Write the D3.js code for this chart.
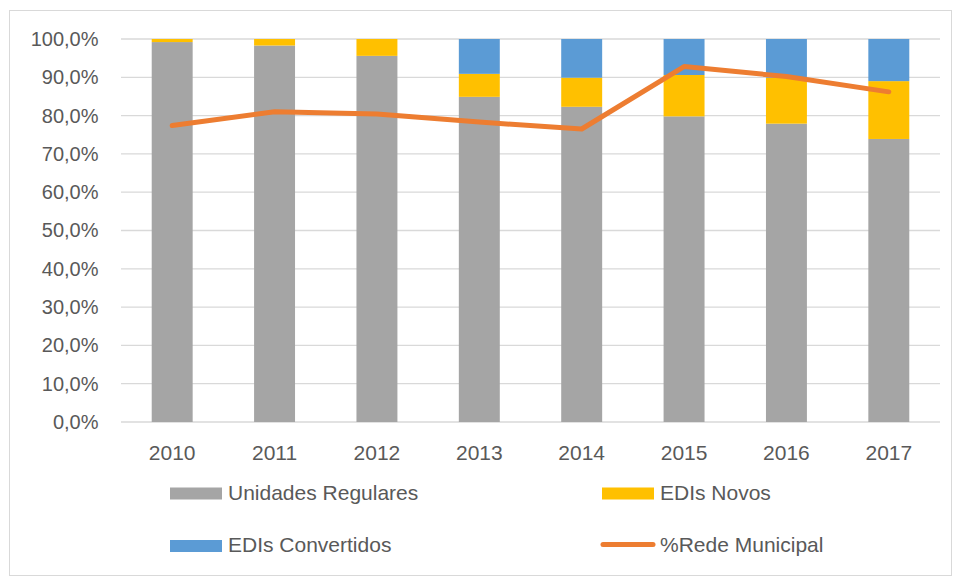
<!DOCTYPE html>
<html><head><meta charset="utf-8">
<script src="https://cdn.jsdelivr.net/npm/d3@7"></script>
<style>body{margin:0;background:#fff;} text{font-family:"Liberation Sans",Arial,sans-serif;fill:#595959;}</style>
</head><body>
<svg id="c" width="954" height="578"></svg>
<script>
const years = ["2010","2011","2012","2013","2014","2015","2016","2017"];
const unidadesRegulares = [99.2, 98.3, 95.6, 84.9, 82.3, 79.8, 77.9, 73.9];
const edisNovos = [0.8, 1.7, 4.4, 6.0, 7.6, 10.8, 12.0, 15.1];
const edisConvertidos = [0.0, 0.0, 0.0, 9.1, 10.1, 9.4, 10.1, 11.0];
const redeMunicipal = [77.4, 81.0, 80.4, 78.3, 76.5, 92.8, 90.2, 86.2];
const yTicks = [0,10,20,30,40,50,60,70,80,90,100];
const seriesNames = ["Unidades Regulares","EDIs Novos","EDIs Convertidos","%Rede Municipal"];
const colors = ["#a5a5a5","#ffc000","#5b9bd5","#ed7d31"];

const svg = d3.select("#c");
svg.append("rect").attr("x",9.5).attr("y",10.5).attr("width",942).attr("height",565)
  .attr("fill","#fff").attr("stroke","#d9d9d9").attr("stroke-width",1);

const x = d3.scaleBand().domain(years).range([121,940]).paddingInner(0.6).paddingOuter(0.3);
const y = d3.scaleLinear().domain([0,100]).range([422,39]);

const fmt = d => d3.format(".1f")(d).replace(".",",") + "%";

// gridlines
svg.append("g").selectAll("line").data(yTicks).join("line")
  .attr("x1",121).attr("x2",940).attr("y1",d=>y(d)).attr("y2",d=>y(d))
  .attr("stroke","#d9d9d9").attr("stroke-width",1.3);

// y axis labels
const yAxis = d3.axisLeft(y).tickValues(yTicks).tickFormat(fmt).tickSize(0).tickPadding(0);
const gy = svg.append("g").attr("transform","translate(98.5,0)").call(yAxis);
gy.select(".domain").remove();
gy.selectAll("text").style("font-size","20px").attr("fill","#595959").attr("font-family",null);

// x axis labels
const xAxis = d3.axisBottom(x).tickSize(0).tickPadding(0);
const gx = svg.append("g").attr("transform","translate(0,445)").call(xAxis);
gx.select(".domain").remove();
gx.selectAll("text").style("font-size","21px").attr("fill","#595959");

// stacked bars
const table = years.map((yr,i)=>({year:yr, a:unidadesRegulares[i], b:edisNovos[i], c:edisConvertidos[i]}));
const stack = d3.stack().keys(["a","b","c"])(table);
svg.append("g").selectAll("g").data(stack).join("g").attr("fill",(d,i)=>colors[i])
  .selectAll("rect").data(d=>d).join("rect")
  .attr("x",d=>x(d.data.year)).attr("width",x.bandwidth())
  .attr("y",d=>y(d[1])).attr("height",d=>y(d[0])-y(d[1]));

// line
const line = d3.line().x((d,i)=>x(years[i])+x.bandwidth()/2).y(d=>y(d));
svg.append("path").datum(redeMunicipal).attr("d",line).attr("fill","none")
  .attr("stroke",colors[3]).attr("stroke-width",5).attr("stroke-linecap","round").attr("stroke-linejoin","round");

// legend
const leg = [
  {name:seriesNames[0], x:170, y:493.5, type:"rect", c:colors[0]},
  {name:seriesNames[1], x:602, y:493.5, type:"rect", c:colors[1]},
  {name:seriesNames[2], x:170, y:546, type:"rect", c:colors[2]},
  {name:seriesNames[3], x:602, y:546, type:"line", c:colors[3]}
];
const lg = svg.append("g").selectAll("g").data(leg).join("g").attr("transform",d=>`translate(${d.x},${d.y})`);
lg.filter(d=>d.type==="rect").append("rect").attr("x",0).attr("y",-6).attr("width",52).attr("height",12).attr("fill",d=>d.c);
lg.filter(d=>d.type==="line").append("line").attr("x1",1).attr("x2",51).attr("y1",-1.5).attr("y2",-1.5)
  .attr("stroke",d=>d.c).attr("stroke-width",5).attr("stroke-linecap","round");
lg.append("text").attr("x",58).attr("y",-1.5).attr("dy","0.36em").style("font-size","21px").text(d=>d.name);
</script>
</body></html>
